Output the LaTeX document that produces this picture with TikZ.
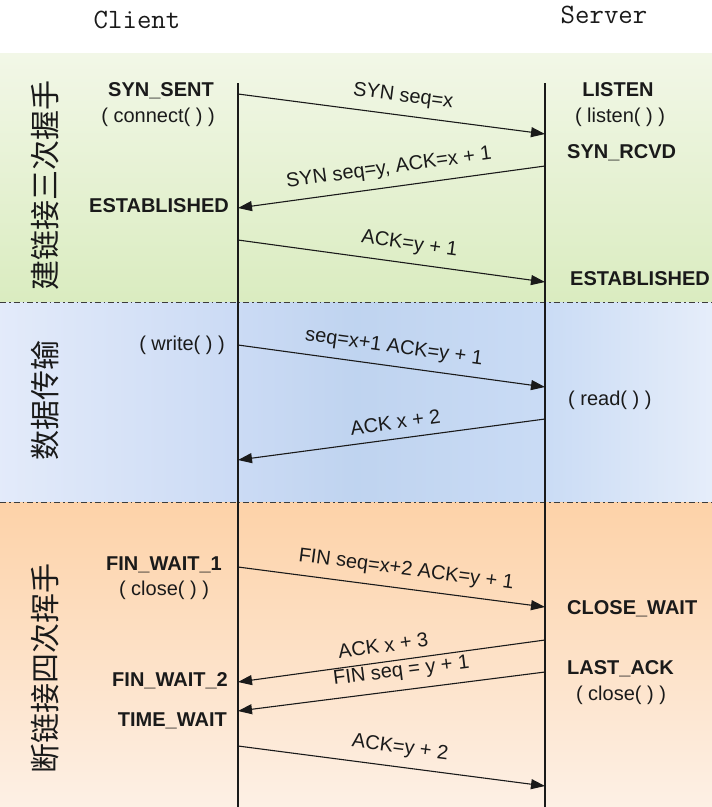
\documentclass[tikz,border=0pt]{standalone}
\usepackage{fontspec}
\setmainfont{Liberation Sans}
\newfontfamily\cjk{Noto Sans CJK SC}
\usetikzlibrary{arrows.meta}
\usepackage{xcolor}

\definecolor{greentop}{HTML}{F2F7E7}
\definecolor{greenbot}{HTML}{DAECC0}
\definecolor{orangetop}{HTML}{FDD2A8}
\definecolor{orangebot}{HTML}{FDF0E5}
\definecolor{ink}{HTML}{1A1A1A}

% blue band: light at the sides, deeper between the two lifelines
\pgfdeclarehorizontalshading{blueband}{100bp}{%
  rgb(0bp)=(0.89,0.92,0.98); rgb(25bp)=(0.89,0.92,0.98);
  rgb(41bp)=(0.80,0.86,0.96); rgb(50bp)=(0.75,0.83,0.94);
  rgb(63bp)=(0.79,0.86,0.96); rgb(75bp)=(0.90,0.93,0.98);
  rgb(100bp)=(0.90,0.93,0.98)}

\begin{document}
\begin{tikzpicture}[x=1pt, y=-1pt,
    lifeline/.style={line width=1.2pt, ink},
    msg/.style={line width=1.1pt, ink, -{Triangle[length=14pt,width=10pt]}},
    msglabel/.style={font=\fontsize{20}{23}\selectfont, text=ink, sloped, anchor=south, inner sep=9pt},
    state/.style={font=\bfseries\fontsize{20}{24}\selectfont, text=ink, inner sep=0pt, yshift=-3pt},
    call/.style={font=\fontsize{20}{24}\selectfont, text=ink, inner sep=0pt, yshift=-3pt},
    phase/.style={font=\cjk\fontsize{30}{30}\selectfont, text=ink, rotate=90, inner sep=0pt},
    side/.style={font=\ttfamily\fontsize{28}{30}\selectfont, text=ink, inner sep=0pt},
    separator/.style={ink!85, line width=1pt, dash pattern=on 6pt off 3pt on 1.5pt off 3pt}]
    \useasboundingbox (0,0) rectangle (712,807);

    % Phase bands
    \shade[top color=greentop, bottom color=greenbot] (0,53) rectangle (712,302);
    \shade[shading=blueband] (0,302) rectangle (712,502);
    \shade[top color=orangetop, bottom color=orangebot] (0,502) rectangle (712,807);
    \draw[separator] (0,302) -- (712,302);
    \draw[separator] (0,502) -- (712,502);

    % Ends
    \node[side] (client) at (137,20) {Client};
    \node[side] (server) at (604,15) {Server};

    % Lifelines
    \coordinate (ctop) at (238,83);
    \coordinate (cbot) at (238,807);
    \coordinate (stop) at (545,83);
    \coordinate (sbot) at (545,807);
    \draw[lifeline] (ctop) -- (cbot);
    \draw[lifeline] (stop) -- (sbot);

    % Phase titles
    \node[phase] (open)  at (45,185) {建链接三次握手};
    \node[phase] (data)  at (45,400) {数据传输};
    \node[phase] (close) at (45,668) {断链接四次挥手};

    % Three-way handshake
    \node[state, anchor=mid] (synsent) at (161,91) {SYN\_SENT};
    \node[call, anchor=mid] (connect) at (158,117) {( connect( ) )};
    \node[state, anchor=mid] (listen) at (618,91) {LISTEN};
    \node[call, anchor=mid] (listencall) at (620,117) {( listen( ) )};
    \node[state, anchor=mid west] (synrcvd) at (567,153) {SYN\_RCVD};
    \node[state, anchor=mid east] (estc) at (229,207) {ESTABLISHED};
    \node[state, anchor=mid west] (ests) at (570,280) {ESTABLISHED};

    \coordinate (a1) at (238,94);  \coordinate (b1) at (545,134);
    \coordinate (a2) at (545,166); \coordinate (b2) at (238,208);
    \coordinate (a3) at (238,240); \coordinate (b3) at (545,282);
    \draw[msg] (a1) -- node[msglabel, pos=0.53] (m1) {SYN seq=x} (b1);
    \draw[msg] (a2) -- node[msglabel, pos=0.50] (m2) {SYN seq=y, ACK=x + 1} (b2);
    \draw[msg] (a3) -- node[msglabel, pos=0.55] (m3) {ACK=y + 1} (b3);

    % Data transfer
    \node[call, anchor=mid east] (write) at (225,345) {( write( ) )};
    \node[call, anchor=mid west] (read) at (568,400) {( read( ) )};

    \coordinate (a4) at (238,345); \coordinate (b4) at (545,387);
    \coordinate (a5) at (545,419); \coordinate (b5) at (238,460);
    \draw[msg] (a4) -- node[msglabel, pos=0.50] (m4) {seq=x+1 ACK=y + 1} (b4);
    \draw[msg] (a5) -- node[msglabel, pos=0.48] (m5) {ACK x + 2} (b5);

    % Four-way wave
    \node[state, anchor=mid] (finwait1) at (164,565) {FIN\_WAIT\_1};
    \node[call, anchor=mid] (closec) at (164,590) {( close( ) )};
    \node[state, anchor=mid west] (closewait) at (567,609) {CLOSE\_WAIT};
    \node[state, anchor=mid west] (lastack) at (567,669) {LAST\_ACK};
    \node[call, anchor=mid] (closes) at (621,695) {( close( ) )};
    \node[state, anchor=mid east] (finwait2) at (228,681) {FIN\_WAIT\_2};
    \node[state, anchor=mid east] (timewait) at (227,721) {TIME\_WAIT};

    \coordinate (a6) at (238,567); \coordinate (b6) at (545,607);
    \coordinate (a7) at (545,640); \coordinate (b7) at (238,682);
    \coordinate (a8) at (545,672); \coordinate (b8) at (238,711);
    \coordinate (a9) at (238,746); \coordinate (b9) at (545,786);
    \draw[msg] (a6) -- node[msglabel, pos=0.54] (m6) {FIN seq=x+2 ACK=y + 1} (b6);
    \draw[msg] (a7) -- node[msglabel, pos=0.52] (m7) {ACK x + 3} (b7);
    \draw[msg] (a8) -- node[msglabel, pos=0.46] (m8) {FIN seq = y + 1} (b8);
    \draw[msg] (a9) -- node[msglabel, pos=0.52] (m9) {ACK=y + 2} (b9);
\end{tikzpicture}
\end{document}
